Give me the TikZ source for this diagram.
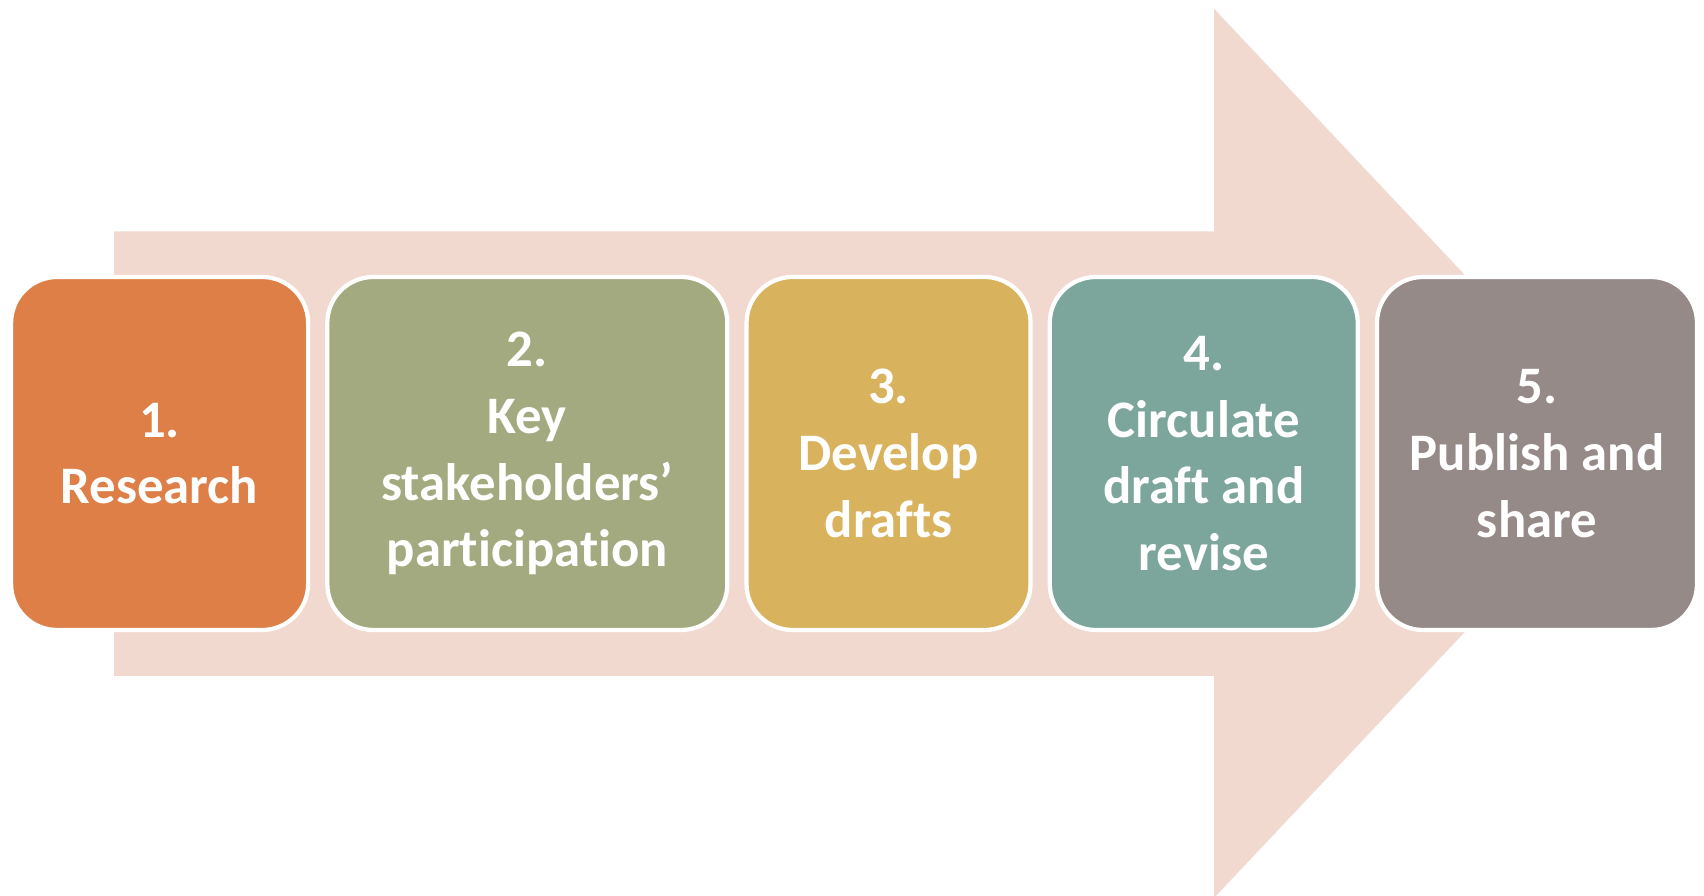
\documentclass[tikz,border=0pt]{standalone}
\usepackage{fontspec}
\setmainfont{Carlito}[Ligatures=NoCommon]
\usepackage{tikz}
\usepackage{xcolor}
\usetikzlibrary{shapes,arrows,positioning,calc}
\definecolor{arrowpink}{RGB}{242,217,208}
\definecolor{stepone}{RGB}{221,127,71}
\definecolor{steptwo}{RGB}{164,170,128}
\definecolor{stepthree}{RGB}{216,178,92}
\definecolor{stepfour}{RGB}{124,166,156}
\definecolor{stepfive}{RGB}{150,138,137}

\begin{document}
\begin{tikzpicture}[
				node distance=0.15cm,
				stepbox/.style={rectangle, rounded corners=0.46cm, draw=white, line width=1.2pt, text=white, align=center, minimum height=3.53cm, font=\fontsize{15}{19}\selectfont\bfseries}
				]
				\useasboundingbox (0,0) rectangle (17.04,-8.96);
				% big background arrow
				\fill[arrowpink] (1.14,-2.315) -- (12.14,-2.315) -- (12.14,-0.087) -- (16.33,-4.535)
					-- (12.14,-8.98) -- (12.14,-6.76) -- (1.14,-6.76) -- cycle;
				
				\node[stepbox, fill=stepone, minimum width=2.97cm, anchor=west] (research) at (0.09,-4.535) {1.\\Research};
				\node[stepbox, fill=steptwo, minimum width=4.0cm, right=of research] (stake) {2.\\Key\\stakeholders'\\participation};
				\node[stepbox, fill=stepthree, minimum width=2.84cm, right=of stake] (drafts) {3.\\Develop\\drafts};
				\node[stepbox, fill=stepfour, minimum width=3.08cm, right=of drafts] (revise) {4.\\Circulate\\draft and\\revise};
				\node[stepbox, fill=stepfive, minimum width=3.2cm, right=of revise] (publish) {5.\\Publish and\\share};
			\end{tikzpicture}
\end{document}
